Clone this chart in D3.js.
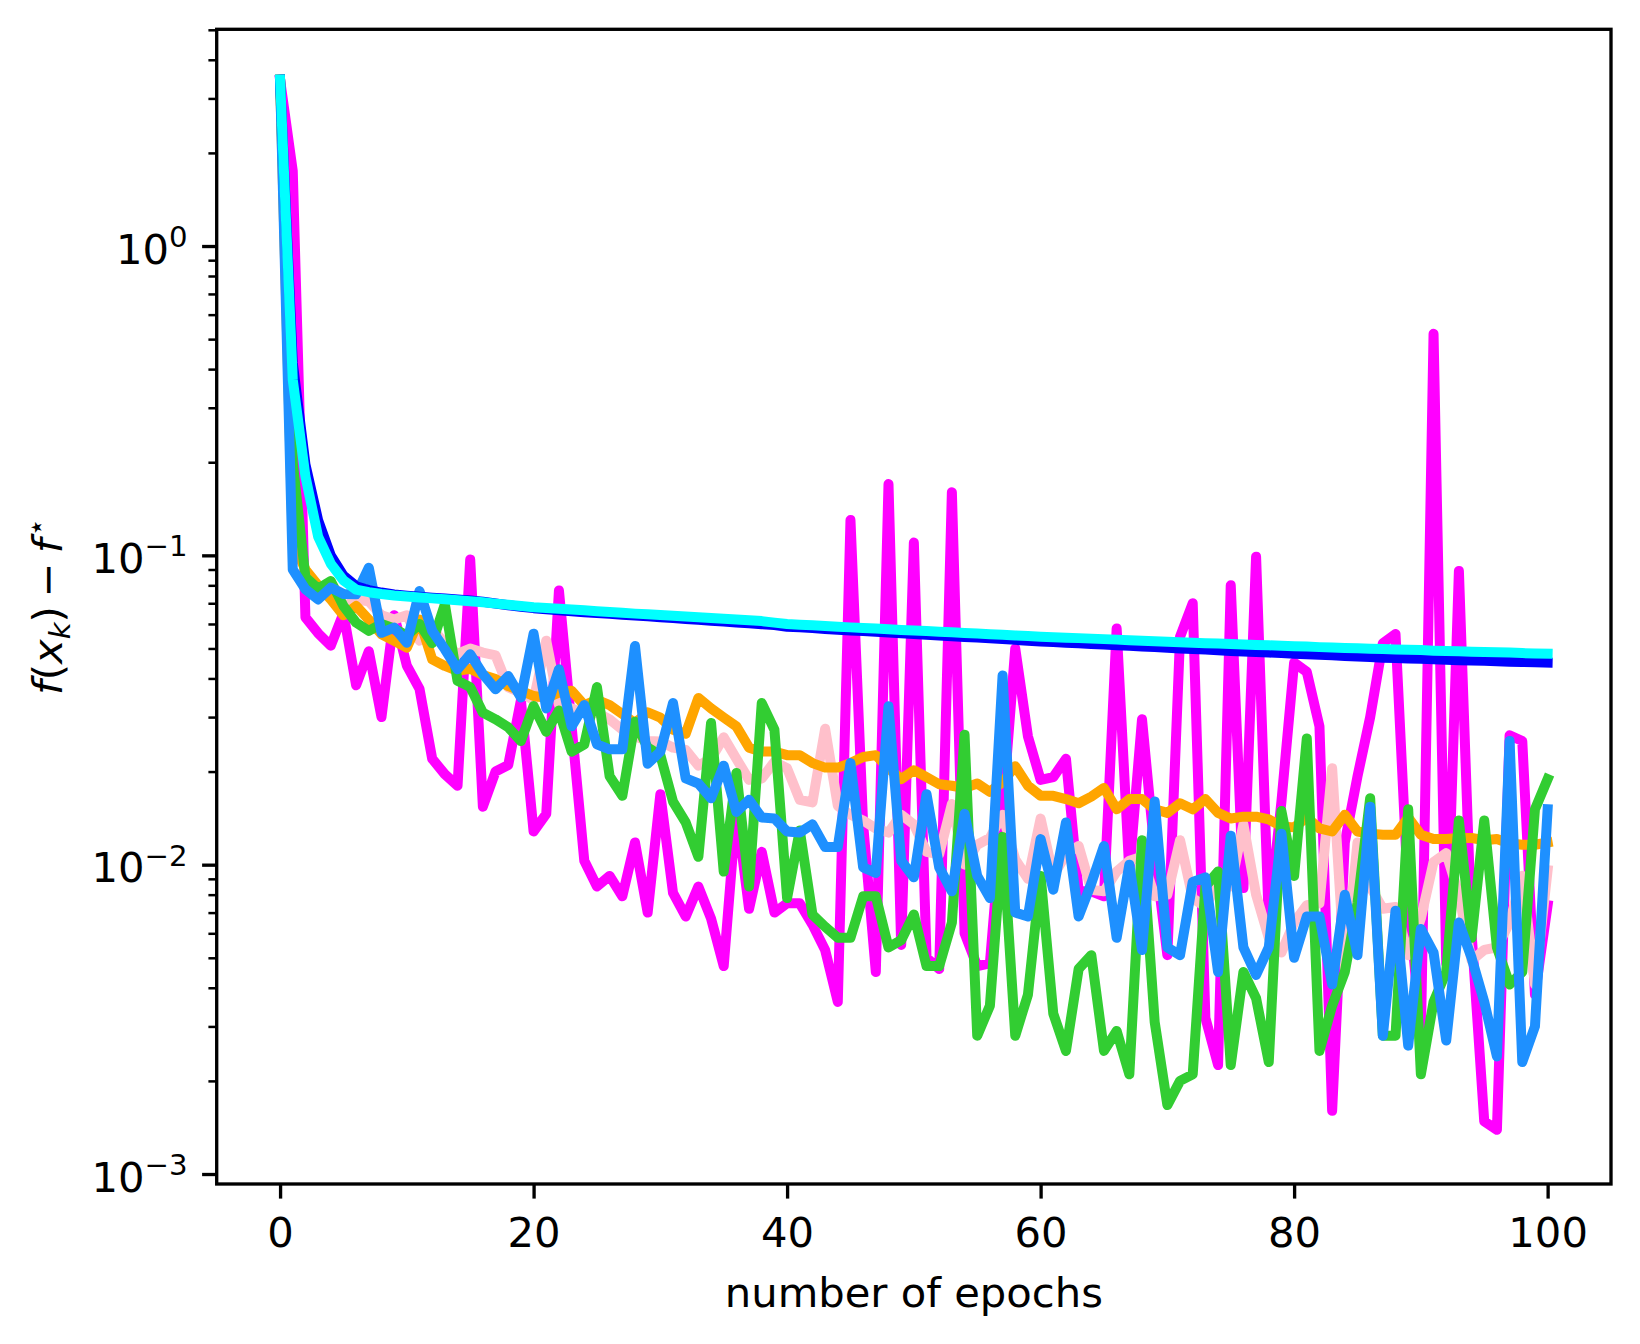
<!DOCTYPE html>
<html>
<head>
<meta charset="utf-8">
<script src="https://cdn.jsdelivr.net/npm/d3@7"></script>
<style>
  body { margin: 0; background: #fff; }
  svg { display: block; font-family: "DejaVu Sans", sans-serif; }
</style>
</head>
<body>
<script>
// values read per epoch (0..100)
const magenta = [3.45, 1.75, 0.063, 0.056, 0.051, 0.065, 0.038, 0.049, 0.030, 0.064,
  0.044, 0.037, 0.022, 0.0196, 0.018, 0.097, 0.0154, 0.020, 0.021, 0.034,
  0.0128, 0.0146, 0.077, 0.028, 0.0103, 0.0085, 0.0092, 0.0079, 0.0118, 0.0070,
  0.0169, 0.0081, 0.0068, 0.0085, 0.0067, 0.0047, 0.0152, 0.0072, 0.0110, 0.0070,
  0.0075, 0.0075, 0.0064, 0.0053, 0.0036, 0.13, 0.0135, 0.0045, 0.17, 0.0055,
  0.11, 0.0050, 0.0046, 0.16, 0.0060, 0.0047, 0.0048, 0.015, 0.050, 0.026,
  0.0188, 0.0192, 0.022, 0.0082, 0.0082, 0.0079, 0.058, 0.0095, 0.0295, 0.011,
  0.0051, 0.0545, 0.070, 0.0032, 0.00225, 0.080, 0.0084, 0.099, 0.0066, 0.016,
  0.045, 0.042, 0.028, 0.0016, 0.0118, 0.0193, 0.030, 0.052, 0.0557, 0.008,
  0.0028, 0.52, 0.0048, 0.089, 0.006, 0.00148, 0.00139, 0.0262, 0.0251, 0.0038,
  0.0074]

const pink = [3.45, 0.16, 0.085, 0.080, 0.074, 0.068, 0.072, 0.071, 0.064, 0.062,
  0.064, 0.053, 0.058, 0.052, 0.048, 0.050, 0.0485, 0.0475, 0.0374, 0.036,
  0.034, 0.053, 0.0328, 0.032, 0.031, 0.031, 0.0295, 0.0273, 0.026, 0.0251,
  0.025, 0.0239, 0.0235, 0.0209, 0.022, 0.0258, 0.022, 0.0188, 0.019, 0.0215,
  0.0205, 0.0162, 0.0159, 0.0275, 0.0155, 0.0145, 0.0139, 0.0131, 0.0127, 0.0145,
  0.0135, 0.0110, 0.0108, 0.0157, 0.0100, 0.0116, 0.0122, 0.0145, 0.0104, 0.0090,
  0.0141, 0.0092, 0.0108, 0.0115, 0.0083, 0.0082, 0.0095, 0.0103, 0.0106, 0.0079,
  0.0080, 0.0120, 0.0078, 0.0073, 0.0088, 0.0085, 0.0135, 0.0080, 0.0058, 0.0052,
  0.0065, 0.0074, 0.0075, 0.0205, 0.0046, 0.0118, 0.0085, 0.0072, 0.0073, 0.0051,
  0.0067, 0.0102, 0.0109, 0.0080, 0.0049, 0.0053, 0.0054, 0.0065, 0.0092, 0.0041,
  0.0096]

const green = [3.45, 0.20, 0.085, 0.078, 0.0826, 0.0686, 0.0606, 0.057, 0.060, 0.058,
  0.055, 0.060, 0.052, 0.0695, 0.0393, 0.0375, 0.031, 0.0295, 0.0278, 0.0251,
  0.0326, 0.0269, 0.0315, 0.0232, 0.0245, 0.0375, 0.0193, 0.0167, 0.029, 0.0239,
  0.0226, 0.016, 0.0137, 0.0106, 0.0287, 0.0095, 0.0198, 0.0085, 0.0333, 0.0273,
  0.0078, 0.0129, 0.0069, 0.0063, 0.0058, 0.0058, 0.0079, 0.0079, 0.0054, 0.0057,
  0.0069, 0.0047, 0.0047, 0.0065, 0.0263, 0.0028, 0.0035, 0.0123, 0.0028, 0.0038,
  0.0092, 0.0033, 0.0025, 0.0046, 0.0051, 0.0025, 0.0029, 0.0021, 0.012, 0.0031,
  0.00167, 0.0020, 0.0021, 0.0085, 0.0095, 0.00225, 0.0045, 0.0037, 0.0023, 0.0149,
  0.0092, 0.0256, 0.0025, 0.0035, 0.0045, 0.0075, 0.0164, 0.0028, 0.0028, 0.0151,
  0.0021, 0.0036, 0.0045, 0.0139, 0.0058, 0.0139, 0.0054, 0.0041, 0.0045, 0.0151,
  0.0189]

const orange = [3.45, 0.11, 0.090, 0.080, 0.072, 0.064, 0.0686, 0.062, 0.0556, 0.0529,
  0.0503, 0.062, 0.0461, 0.0439, 0.0423, 0.043, 0.041, 0.0398, 0.0378, 0.0365,
  0.0351, 0.0346, 0.036, 0.0365, 0.0328, 0.0341, 0.0328, 0.0307, 0.0287, 0.0311,
  0.0299, 0.0273, 0.0265, 0.0346, 0.032, 0.0299, 0.028, 0.0239, 0.0232, 0.0232,
  0.0226, 0.0226, 0.0213, 0.0206, 0.0206, 0.0213, 0.0223, 0.0226, 0.0205, 0.0189,
  0.0202, 0.0192, 0.0182, 0.0180, 0.0177, 0.0183, 0.0172, 0.0185, 0.0208, 0.0180,
  0.0167, 0.0167, 0.0163, 0.0158, 0.0166, 0.0177, 0.0151, 0.0163, 0.0163, 0.0151,
  0.0147, 0.0158, 0.0151, 0.0163, 0.0147, 0.0141, 0.0143, 0.0143, 0.0140, 0.0133,
  0.0132, 0.0142, 0.0131, 0.0128, 0.0145, 0.0128, 0.0126, 0.0125, 0.0125, 0.0142,
  0.0125, 0.0121, 0.0121, 0.0122, 0.0122, 0.0120, 0.0121, 0.0117, 0.0116, 0.0116,
  0.0118]

const dodger = [3.45, 0.090, 0.0777, 0.072, 0.0787, 0.075, 0.0748, 0.0912, 0.0562, 0.0584,
  0.0522, 0.0767, 0.057, 0.0497, 0.0428, 0.0479, 0.0413, 0.0369, 0.0407, 0.0347,
  0.0558, 0.032, 0.0428, 0.028, 0.0328, 0.0245, 0.0236, 0.0236, 0.0509, 0.0212,
  0.0232, 0.0333, 0.019, 0.0183, 0.0164, 0.0209, 0.0148, 0.0162, 0.0142, 0.0141,
  0.0128, 0.0127, 0.0135, 0.0114, 0.0114, 0.0213, 0.0098, 0.0094, 0.0325, 0.0103,
  0.0091, 0.0169, 0.0098, 0.0082, 0.0146, 0.0092, 0.0078, 0.0409, 0.0070, 0.0068,
  0.0121, 0.0083, 0.0137, 0.0068, 0.0087, 0.0115, 0.0058, 0.0100, 0.0053, 0.0160,
  0.0054, 0.0051, 0.0088, 0.0091, 0.0045, 0.0124, 0.0054, 0.0044, 0.0054, 0.0126,
  0.0050, 0.0068, 0.0068, 0.0041, 0.0080, 0.0051, 0.0154, 0.0028, 0.0071, 0.0026,
  0.0062, 0.0052, 0.0027, 0.0065, 0.0050, 0.0036, 0.0024, 0.0251, 0.0023, 0.0030,
  0.0151]

const blue = [3.45, 0.42, 0.197, 0.13, 0.100, 0.086, 0.0795, 0.0772, 0.0758, 0.0748,
  0.0741, 0.0735, 0.0730, 0.0725, 0.0720, 0.0714, 0.0708, 0.0699, 0.0690, 0.0682,
  0.0675, 0.0670, 0.0665, 0.0660, 0.0655, 0.0651, 0.0647, 0.0643, 0.0639, 0.0635,
  0.0631, 0.0627, 0.0623, 0.0619, 0.0615, 0.0611, 0.0607, 0.0603, 0.0599, 0.0595,
  0.0588, 0.0585, 0.0582, 0.0578, 0.0575, 0.0572, 0.0569, 0.0566, 0.0563, 0.0560,
  0.0557, 0.0554, 0.0551, 0.0548, 0.0545, 0.0542, 0.0539, 0.0536, 0.0533, 0.0530,
  0.0527, 0.0525, 0.0522, 0.0520, 0.0517, 0.0515, 0.0512, 0.0510, 0.0507, 0.0505,
  0.0503, 0.0500, 0.0498, 0.0496, 0.0493, 0.0491, 0.0489, 0.0487, 0.0485, 0.0483,
  0.0481, 0.0479, 0.0477, 0.0475, 0.0473, 0.0471, 0.0469, 0.0467, 0.0466, 0.0464,
  0.0463, 0.0461, 0.0460, 0.0458, 0.0457, 0.0456, 0.0455, 0.0453, 0.0452, 0.0451,
  0.0450]

const cyan = [3.45, 0.37, 0.18, 0.115, 0.094, 0.083, 0.0775, 0.0760, 0.0750, 0.0742,
  0.0736, 0.0731, 0.0726, 0.0721, 0.0716, 0.0711, 0.0705, 0.0698, 0.0692, 0.0686,
  0.0680, 0.0676, 0.0672, 0.0668, 0.0664, 0.0660, 0.0656, 0.0652, 0.0648, 0.0645,
  0.0641, 0.0638, 0.0634, 0.0631, 0.0627, 0.0624, 0.0620, 0.0617, 0.0613, 0.0606,
  0.0600, 0.0597, 0.0594, 0.0591, 0.0588, 0.0585, 0.0582, 0.0580, 0.0577, 0.0574,
  0.0572, 0.0569, 0.0566, 0.0564, 0.0561, 0.0559, 0.0556, 0.0554, 0.0551, 0.0549,
  0.0546, 0.0544, 0.0542, 0.0540, 0.0538, 0.0536, 0.0534, 0.0532, 0.0530, 0.0528,
  0.0526, 0.0524, 0.0522, 0.0520, 0.0519, 0.0517, 0.0515, 0.0513, 0.0512, 0.0510,
  0.0508, 0.0507, 0.0505, 0.0504, 0.0502, 0.0501, 0.0499, 0.0498, 0.0496, 0.0495,
  0.0494, 0.0492, 0.0491, 0.0490, 0.0488, 0.0487, 0.0486, 0.0485, 0.0483, 0.0482,
  0.0481]

const xTicks = [0, 20, 40, 60, 80, 100]
const yTicks = [1e-3, 1e-2, 1e-1, 1]
const yTickLabels = [["10", "\u22123"], ["10", "\u22122"], ["10", "\u22121"], ["10", "0"]]

const series = [
  { values: magenta, color: "#ff00ff" },
  { values: pink, color: "#ffc0cb" },
  { values: orange, color: "#ffa500" },
  { values: green, color: "#32cd32" },
  { values: dodger, color: "#1e90ff" },
  { values: blue, color: "#0000ff" },
  { values: cyan, color: "#00ffff" }
]

const w = 1640
const h = 1344
const padLeft = 216.7, padRight = 1611, padTop = 29.3, padBottom = 1184
const fontSize = 41.7

const svg = d3.select("body")
  .append("svg")
  .attr("width", w)
  .attr("height", h)

svg.append("rect")
  .attr("width", w)
  .attr("height", h)
  .attr("fill", "#fff")

const xScale = d3.scaleLinear()
  .domain([-5, 105])
  .range([padLeft, padRight])

const yScale = d3.scaleLog()
  .domain([Math.pow(10, -3.0323), Math.pow(10, 0.7006)])
  .range([padBottom, padTop])

svg.append("clipPath")
  .attr("id", "plot-clip")
  .append("rect")
  .attr("x", padLeft)
  .attr("y", padTop)
  .attr("width", padRight - padLeft)
  .attr("height", padBottom - padTop)

const line = d3.line()
  .x((d, i) => xScale(i))
  .y(d => yScale(d))

svg.append("g")
  .attr("clip-path", "url(#plot-clip)")
  .selectAll("path")
  .data(series)
  .enter()
  .append("path")
  .attr("d", d => line(d.values))
  .attr("fill", "none")
  .attr("stroke", d => d.color)
  .attr("stroke-width", 10)
  .attr("stroke-linejoin", "round")
  .attr("stroke-linecap", "square")

// x axis
const xAxis = svg.append("g")
  .attr("transform", "translate(0," + padBottom + ")")
  .call(d3.axisBottom(xScale).tickValues(xTicks).tickSize(14.6).tickFormat(d3.format("d")))
xAxis.select(".domain").remove()
xAxis.selectAll("line").attr("stroke", "#000").attr("stroke-width", 3.33)
xAxis.selectAll("text")
  .attr("y", 62.5)
  .attr("dy", 0)
  .style("font-size", fontSize + "px")
  .style("font-family", "DejaVu Sans")
  .attr("fill", "#000")

// y axis, minor ticks
const minor = yScale.ticks().filter(d => Math.abs(Math.log10(d) - Math.round(Math.log10(d))) > 1e-6)
const yMinor = svg.append("g")
  .attr("transform", "translate(" + padLeft + ",0)")
  .call(d3.axisLeft(yScale).tickValues(minor).tickSize(8.3).tickFormat(""))
yMinor.select(".domain").remove()
yMinor.selectAll("line").attr("stroke", "#000").attr("stroke-width", 2.5)

// y axis, major ticks with 10^n labels
const yAxis = svg.append("g")
  .attr("transform", "translate(" + padLeft + ",0)")
  .call(d3.axisLeft(yScale).tickValues(yTicks).tickSize(14.6).tickPadding(14.6).tickFormat(""))
yAxis.select(".domain").remove()
yAxis.selectAll("line").attr("stroke", "#000").attr("stroke-width", 3.33)
yAxis.selectAll("text")
  .attr("dy", 17)
  .attr("fill", "#000")
  .style("font-size", fontSize + "px")
  .style("font-family", "DejaVu Sans")
  .each(function (d, i) {
    const t = d3.select(this)
    t.append("tspan").text(yTickLabels[i][0])
    t.append("tspan")
      .attr("dy", -16.6)
      .style("font-size", "29.2px")
      .text(yTickLabels[i][1])
  })

// frame
svg.append("rect")
  .attr("x", padLeft)
  .attr("y", padTop)
  .attr("width", padRight - padLeft)
  .attr("height", padBottom - padTop)
  .attr("fill", "none")
  .attr("stroke", "#000")
  .attr("stroke-width", 3.33)
  .attr("stroke-linecap", "square")

svg.append("text")
  .attr("x", (padLeft + padRight) / 2)
  .attr("y", 1306.5)
  .attr("text-anchor", "middle")
  .style("font-size", fontSize + "px")
  .text("number of epochs")

const ylab = svg.append("text")
  .attr("transform", "translate(62," + (padTop + padBottom) / 2 + ") rotate(-90)")
  .attr("text-anchor", "middle")
  .style("font-size", fontSize + "px")
ylab.append("tspan").style("font-style", "italic").text("f")
ylab.append("tspan").text("(")
ylab.append("tspan").style("font-style", "italic").text("x")
ylab.append("tspan").style("font-style", "italic").style("font-size", "29.2px").attr("dy", 8).text("k")
ylab.append("tspan").attr("dy", -8).text(")")
ylab.append("tspan").attr("dx", 9).text("\u2212")
ylab.append("tspan").attr("dx", 9).style("font-style", "italic").text("f")
ylab.append("tspan").attr("dx", 2).attr("dy", -16).style("font-size", "29.2px").text("\u22c6")
</script>
</body>
</html>
